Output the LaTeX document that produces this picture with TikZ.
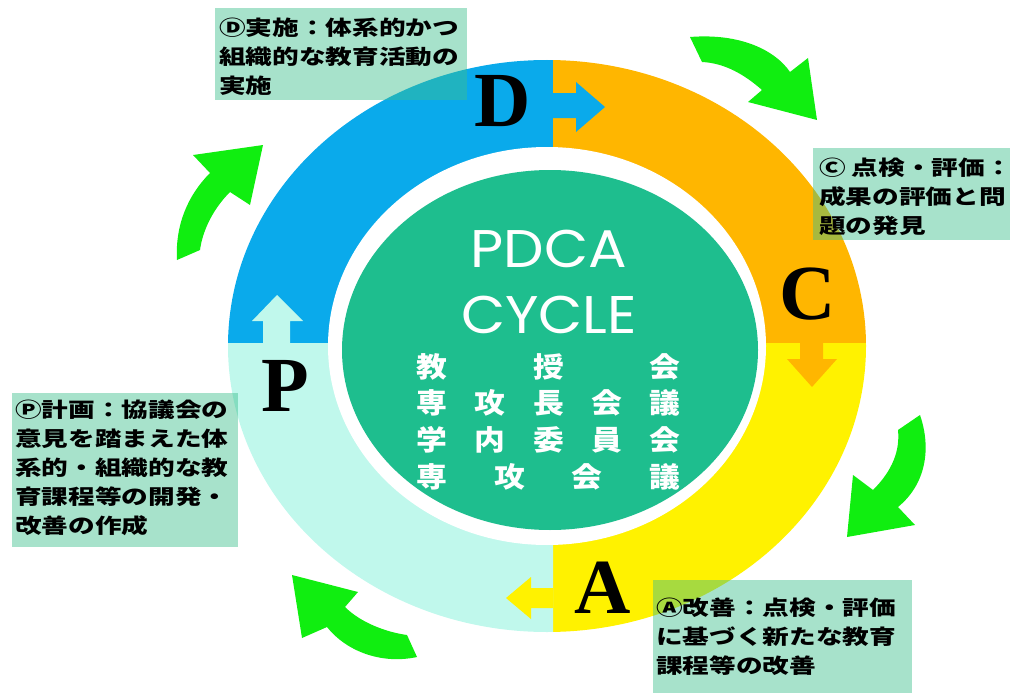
\documentclass[tikz,border=0pt]{standalone}
\usepackage{fontspec}
\usepackage{graphicx}
\newfontfamily\cjk{Noto Sans CJK JP}
\newfontfamily\popp{Poppins}
\newfontfamily\serifb{Liberation Serif}
\definecolor{ringblue}{RGB}{10,170,235}
\definecolor{ringorange}{RGB}{255,182,0}
\definecolor{ringyellow}{RGB}{255,242,0}
\definecolor{ringcyan}{RGB}{192,248,236}
\definecolor{coregreen}{RGB}{30,190,142}
\definecolor{arrowgreen}{RGB}{16,238,16}
\definecolor{boxgreen}{RGB}{60,190,140}
\newcommand\gcell[2]{\makebox[#1pt]{\scalebox{1.1}[1]{#2}}}
\newcommand\jlines[1]{\scalebox{1.3}[1]{\begin{tabular}{@{}l@{}}#1\end{tabular}}}
\tikzset{
  garrow/.style={fill=arrowgreen},
  infobox/.style={fill=boxgreen, fill opacity=0.45, draw=none, inner sep=0, anchor=north west},
  infotext/.style={anchor=north west, inner sep=0, text=black, font=\cjk\bfseries\fontsize{20.5}{29}\selectfont},
  bigletter/.style={font=\serifb\bfseries\fontsize{78}{78}\selectfont, inner sep=0, text=black},
  cycletext/.style={font=\popp\fontsize{53}{53}\selectfont, inner sep=0, text=white},
  gridrow/.style={font=\cjk\bfseries\fontsize{28}{28}\selectfont, inner sep=0, text=white}
}
\begin{document}
\begin{tikzpicture}[x=1pt,y=-1pt]
\useasboundingbox (0,0) rectangle (1015,693);
% ring quadrants
\begin{scope}
  \clip (0,0) rectangle (553,343);
  \fill[ringblue] (547,346) ellipse [x radius=319, y radius=286];
\end{scope}
\begin{scope}
  \clip (553,0) rectangle (1015,343);
  \fill[ringorange] (547,346) ellipse [x radius=319, y radius=286];
\end{scope}
\begin{scope}
  \clip (553,343) rectangle (1015,693);
  \fill[ringyellow] (547,346) ellipse [x radius=319, y radius=286];
\end{scope}
\begin{scope}
  \clip (0,343) rectangle (553,693);
  \fill[ringcyan] (547,346) ellipse [x radius=319, y radius=286];
\end{scope}
\fill[white] (547,346) ellipse [x radius=219, y radius=199];
\fill[coregreen] (550,350) ellipse [x radius=208, y radius=180];
% small arrows between quadrants
\fill[ringblue] (553,93) -- (576,93) -- (576,82) -- (605,107) -- (576,132) -- (576,118) -- (553,118) -- cycle;
\fill[ringorange] (800,343) -- (823,343) -- (823,359) -- (837,359) -- (812,387) -- (787,359) -- (800,359) -- cycle;
\fill[ringyellow] (553,588) -- (531,588) -- (531,577) -- (506,598) -- (531,619) -- (531,608) -- (553,608) -- cycle;
\fill[ringcyan] (263,343) -- (263,321) -- (252,321) -- (277,295) -- (303,321) -- (290,321) -- (290,343) -- cycle;
% letters
\node[bigletter] (letD) at (503,101) {D};
\node[bigletter] (letC) at (808,294) {C};
\node[bigletter] (letA) at (603,588) {A};
\node[bigletter] (letP) at (285,386) {P};
% green curved arrows
\fill[garrow] (690,37) .. controls (740,33) and (775,50) .. (790,72) -- (808,58) -- (817,120) -- (748,102) -- (762,90) .. controls (745,75) and (725,63) .. (702,62) -- cycle;
\fill[garrow] (920,415) .. controls (932,450) and (925,485) .. (898,507) -- (915,525) -- (847,537) -- (853,475) -- (873,490) .. controls (893,470) and (900,450) .. (898,430) -- cycle;
\fill[garrow] (417,657) .. controls (380,665) and (345,650) .. (327,627) -- (302,638) -- (292,575) -- (358,592) -- (345,607) .. controls (360,622) and (385,632) .. (407,635) -- cycle;
\fill[garrow] (177,260) .. controls (175,225) and (188,195) .. (210,173) -- (193,155) -- (263,145) -- (250,205) -- (230,192) .. controls (215,207) and (203,228) .. (200,250) -- cycle;
% centre text
\node[cycletext] (pdca) at (549,249) {\scalebox{1.08}[1]{PDCA}};
\node[cycletext] (cycle) at (549,315) {\scalebox{1.08}[1]{CYCLE}};
\node[gridrow] (row1) at (548.5,367) {\gcell{58.25}{教}\gcell{58.25}{}\gcell{58.25}{授}\gcell{58.25}{}\gcell{58.25}{会}};
\node[gridrow] (row2) at (548.5,403) {\gcell{58.25}{専}\gcell{58.25}{攻}\gcell{58.25}{長}\gcell{58.25}{会}\gcell{58.25}{議}};
\node[gridrow] (row3) at (548.5,440) {\gcell{58.25}{学}\gcell{58.25}{内}\gcell{58.25}{委}\gcell{58.25}{員}\gcell{58.25}{会}};
\node[gridrow] (row4) at (548.5,477) {\gcell{77.67}{専}\gcell{77.67}{攻}\gcell{77.67}{会}\gcell{77.67}{議}};
% info boxes
\node[infobox, minimum width=252pt, minimum height=92pt] (dbox) at (215,8) {};
\node[infobox, minimum width=197pt, minimum height=92pt] (cbox) at (813,148) {};
\node[infobox, minimum width=226pt, minimum height=154pt] (pbox) at (12,393) {};
\node[infobox, minimum width=259pt, minimum height=113pt] (abox) at (653,580) {};
\node[infotext] (dtext) at (219,15) {\jlines{Ⓓ実施：体系的かつ\\組織的な教育活動の\\実施}};
\node[infotext] (ctext) at (819,155) {\jlines{Ⓒ 点検・評価：\\成果の評価と問\\題の発見}};
\node[infotext] (ptext) at (15,397) {\jlines{Ⓟ計画：協議会の\\意見を踏まえた体\\系的・組織的な教\\育課程等の開発・\\改善の作成}};
\node[infotext] (atext) at (656,595) {\jlines{Ⓐ改善：点検・評価\\に基づく新たな教育\\課程等の改善}};
\end{tikzpicture}
\end{document}
